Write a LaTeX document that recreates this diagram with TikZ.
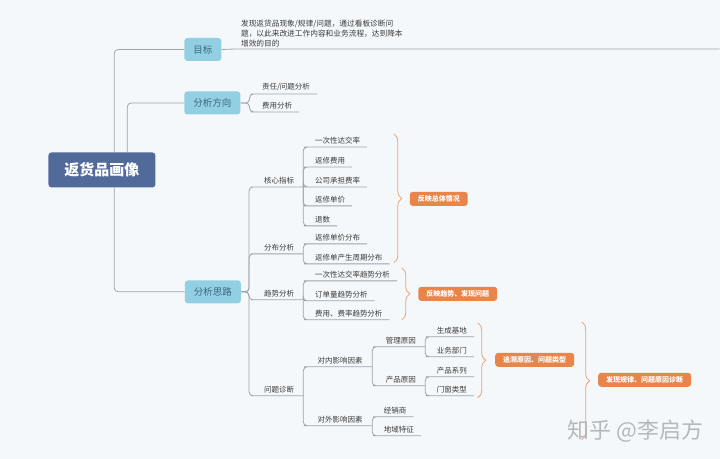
\documentclass[tikz,border=0pt]{standalone}
\usepackage{fontspec}
\setmainfont{Noto Sans CJK SC}
\usepackage{tikz}
\usetikzlibrary{decorations.pathreplacing}
\definecolor{bgc}{HTML}{F4F8FB}
\definecolor{linec}{HTML}{9EA4AC}
\definecolor{topicc}{HTML}{92CFE2}
\definecolor{topict}{HTML}{3D6680}
\definecolor{rootc}{HTML}{526A99}
\definecolor{leaft}{HTML}{3A3A3A}
\definecolor{sumc}{HTML}{E9844B}
\definecolor{bracec}{HTML}{E6A478}
\definecolor{wmc}{HTML}{B5B8BB}

\begin{document}
\begin{tikzpicture}[x=1pt, y=-1pt,
	link/.style={draw=linec, line width=0.8pt, rounded corners=4pt},
	root/.style={fill=rootc, text=white, rounded corners=3pt, minimum width=107pt, minimum height=35pt, font=\bfseries\fontsize{15}{18}\selectfont},
	topic/.style={fill=topicc, text=topict, rounded corners=3pt, minimum height=23pt, inner xsep=9pt, font=\fontsize{9.5}{11}\selectfont},
	leaf/.style={anchor=south west, inner xsep=7pt, inner ysep=2.5pt, text=leaft, font=\fontsize{7.5}{9}\selectfont},
	branch/.style={leaf, minimum width=48pt},
	wide/.style={leaf, minimum width=64pt},
	sum/.style={fill=sumc, text=white, rounded corners=3pt, minimum height=14pt, inner xsep=8pt, font=\bfseries\fontsize{7}{8}\selectfont},
	brace/.style={draw=bracec, line width=0.8pt, decorate, decoration={brace, amplitude=8pt}}]

	\fill[bgc] (0,0) rectangle (720,459);

	\node[root] (root) at (102,170) {返货品画像};
	\node[topic] (goal) at (203,49.5) {目标};
	\node[topic] (dir) at (212.5,103) {分析方向};
	\node[topic] (think) at (213,292) {分析思路};

	\node[anchor=south west, inner xsep=5pt, inner ysep=2pt, text=leaft, align=left, font=\fontsize{7.7}{10}\selectfont] (gtext) at (236,49) {发现返货品现象/规律/问题，通过看板诊断问\\题，以此来改进工作内容和业务流程，达到降本\\增效的目的};
	\coordinate (gend) at (720,49);

	\node[leaf] (d1) at (255,94) {责任/问题分析};
	\node[leaf] (d2) at (255,112) {费用分析};

	\node[branch] (core) at (255,187) {核心指标};
	\node[branch] (dist) at (255,254) {分布分析};
	\node[branch] (trend) at (255,300) {趋势分析};
	\node[branch] (diag) at (255,396) {问题诊断};

	\node[leaf] (k1) at (308,147) {一次性达交率};
	\node[leaf] (k2) at (308,167) {返修费用};
	\node[leaf] (k3) at (308,187) {公司承担费率};
	\node[leaf] (k4) at (308,206) {返修单价};
	\node[leaf] (k5) at (308,226) {退数};
	\node[leaf] (f1) at (308,244) {返修单价分布};
	\node[leaf] (f2) at (308,264) {返修单产生周期分布};
	\node[leaf] (t1) at (308,281) {一次性达交率趋势分析};
	\node[leaf] (t2) at (308,301) {订单量趋势分析};
	\node[leaf] (t3) at (308,320) {费用、费率趋势分析};

	\node[wide] (inner) at (308,367) {对内影响因素};
	\node[wide] (outer) at (308,426) {对外影响因素};
	\node[branch] (mgmt) at (377,347) {管理原因};
	\node[branch] (prod) at (377,386) {产品原因};
	\node[leaf] (m1) at (430,337) {生成基地};
	\node[leaf] (m2) at (430,357) {业务部门};
	\node[leaf] (p1) at (430,377) {产品系列};
	\node[leaf] (p2) at (430,396) {门窗类型};
	\node[leaf] (o1) at (377,417) {经销商};
	\node[leaf] (o2) at (377,436) {地域特征};

	\node[sum] (sum1) at (439,199) {反映总体情况};
	\node[sum] (sum2) at (458,294) {反映趋势、发现问题};
	\node[sum] (sum3) at (535,360) {追溯原因、问题类型};
	\node[sum] (sum4) at (645,380) {发现规律、问题原因诊断};

	\node[text=wmc, font=\fontsize{22}{24}\selectfont] (wm) at (636,431) {知乎 @李启方};

	% trunk
	\draw[link] ([xshift=66pt]root.north west) |- (goal.west);
	\draw[link] ([xshift=79pt]root.north west) |- (dir.west);
	\draw[link] ([xshift=66pt]root.south west) |- (think.west);
	\draw[link] (goal.east) -- (gtext.south west) -- (gend);

	\foreach \c in {d1,d2}
		\draw[link] (dir.east) -- ++(9,0) |- (\c.south west) -- (\c.south east);
	\foreach \c in {core,dist,trend,diag}
		\draw[link] (think.east) -- ++(8,0) |- (\c.south west) -- (\c.south east);
	\foreach \c in {k1,k2,k3,k4,k5}
		\draw[link] (core.south east) |- (\c.south west) -- (\c.south east);
	\foreach \c in {f1,f2}
		\draw[link] (dist.south east) |- (\c.south west) -- (\c.south east);
	\foreach \c in {t1,t2,t3}
		\draw[link] (trend.south east) |- (\c.south west) -- (\c.south east);
	\foreach \c in {inner,outer}
		\draw[link] (diag.south east) |- (\c.south west) -- (\c.south east);
	\foreach \c in {mgmt,prod}
		\draw[link] (inner.south east) |- (\c.south west) -- (\c.south east);
	\foreach \c in {o1,o2}
		\draw[link] (outer.south east) |- (\c.south west) -- (\c.south east);
	\foreach \c in {m1,m2}
		\draw[link] (mgmt.south east) |- (\c.south west) -- (\c.south east);
	\foreach \c in {p1,p2}
		\draw[link] (prod.south east) |- (\c.south west) -- (\c.south east);

	% summaries
	\draw[brace] (394,134) -- (394,263);
	\draw[brace] (402,268) -- (402,320);
	\draw[brace] (478,323) -- (478,398);
	\draw[brace] (582,322) -- (582,440);
\end{tikzpicture}
\end{document}
